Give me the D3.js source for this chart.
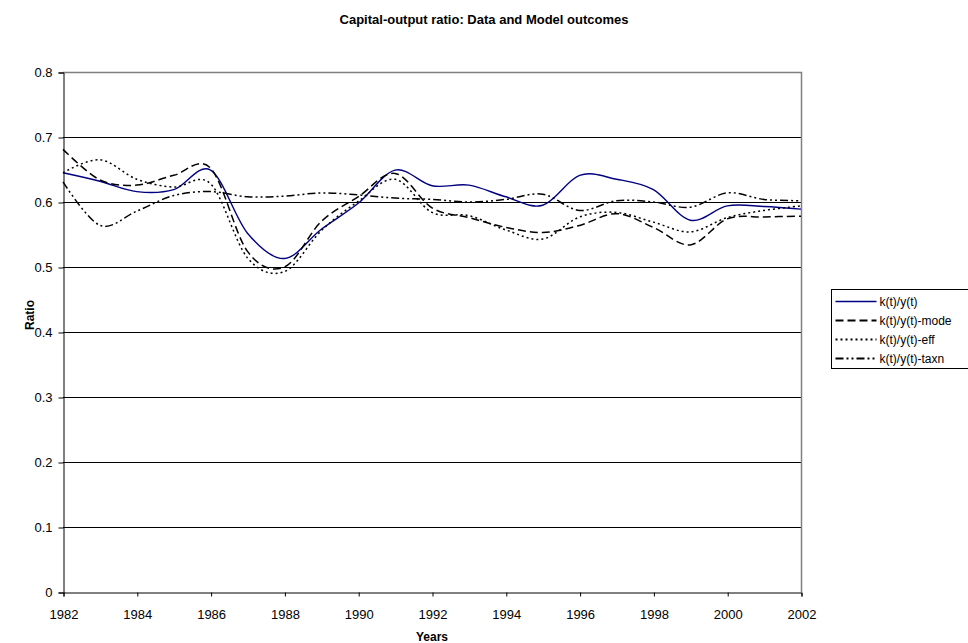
<!DOCTYPE html>
<html>
<head>
<meta charset="utf-8">
<script src="https://cdn.jsdelivr.net/npm/d3@7"></script>
<style>
  body { margin: 0; background: #fff; }
  text { font-family: "Liberation Sans", Arial, sans-serif; }
</style>
</head>
<body>
<div class="chart"></div>
<script>
// values
var years = d3.range(1982, 2003);
var dataKY  = [0.645, 0.632, 0.616, 0.619, 0.649, 0.552, 0.513, 0.558, 0.598, 0.649, 0.625, 0.626, 0.608, 0.595, 0.641, 0.635, 0.619, 0.572, 0.594, 0.593, 0.589];
var modelKY = [0.681, 0.634, 0.626, 0.641, 0.652, 0.524, 0.500, 0.570, 0.608, 0.644, 0.591, 0.576, 0.561, 0.553, 0.564, 0.582, 0.561, 0.534, 0.574, 0.577, 0.578];
var effKY   = [0.645, 0.665, 0.635, 0.623, 0.628, 0.514, 0.493, 0.556, 0.601, 0.635, 0.584, 0.579, 0.557, 0.543, 0.577, 0.584, 0.569, 0.554, 0.576, 0.587, 0.594];
var taxnKY  = [0.631, 0.564, 0.586, 0.610, 0.616, 0.608, 0.609, 0.614, 0.611, 0.606, 0.604, 0.600, 0.604, 0.612, 0.587, 0.602, 0.600, 0.592, 0.614, 0.604, 0.602];
var seriesNames = ["k(t)/y(t)", "k(t)/y(t)-mode", "k(t)/y(t)-eff", "k(t)/y(t)-taxn"];
var yTicks = [0, 0.1, 0.2, 0.3, 0.4, 0.5, 0.6, 0.7, 0.8];
var xTicks = d3.range(1982, 2003, 2);

var series = [
  {name: seriesNames[0], values: dataKY,  color: "#000080", dash: null,          width: 1.4},
  {name: seriesNames[1], values: modelKY, color: "#000",    dash: "8,4",         width: 1.5},
  {name: seriesNames[2], values: effKY,   color: "#000",    dash: "2,3",         width: 1.5},
  {name: seriesNames[3], values: taxnKY,  color: "#000",    dash: "8,3,2,3,2,3", width: 1.5}
];

var W = 968, H = 643;
var plotL = 63, plotR = 801, plotT = 72, plotB = 592;

var svg = d3.select(".chart").append("svg")
    .attr("width", W)
    .attr("height", H);

var x = d3.scaleLinear().domain([1982, 2002]).range([plotL, plotR]);
var y = d3.scaleLinear().domain([0, 0.8]).range([plotB, plotT]);

// title
svg.append("text")
    .attr("x", 484).attr("y", 24)
    .attr("text-anchor", "middle")
    .attr("font-size", 13).attr("font-weight", "bold")
    .text("Capital-output ratio: Data and Model outcomes");

// gridlines
svg.append("g").selectAll("line")
    .data(yTicks.filter(d => d > 0 && d < 0.8)).enter()
    .append("line")
    .attr("x1", plotL).attr("x2", plotR)
    .attr("y1", d => Math.round(y(d)) + 0.5)
    .attr("y2", d => Math.round(y(d)) + 0.5)
    .attr("stroke", "#000").attr("stroke-width", 1);

// plot border (top / right grey)
svg.append("path")
    .attr("d", `M${plotL},${plotT + 0.5}H${plotR + 0.5}V${plotB}`)
    .attr("fill", "none").attr("stroke", "#808080").attr("stroke-width", 1.5);

// axes
var yAxis = d3.axisLeft(y).tickValues(yTicks).tickSize(5).tickPadding(6)
    .tickFormat(d => d === 0 ? "0" : d3.format(".1f")(d));
svg.append("g")
    .attr("transform", `translate(${plotL + 0.5},0.5)`)
    .call(yAxis)
    .call(g => g.selectAll("text").attr("font-size", 13).attr("font-family", "Liberation Sans, Arial, sans-serif").attr("fill", "#000"));

var xAxis = d3.axisBottom(x).tickValues(xTicks).tickSize(4).tickPadding(13)
    .tickFormat(d3.format("d"));
svg.append("g")
    .attr("transform", `translate(0.5,${plotB + 0.5})`)
    .call(xAxis)
    .call(g => g.selectAll("text").attr("font-size", 13).attr("font-family", "Liberation Sans, Arial, sans-serif").attr("fill", "#000"));

svg.selectAll(".domain").attr("stroke", "#000");

// axis titles
svg.append("text")
    .attr("x", (plotL + plotR) / 2).attr("y", 641)
    .attr("text-anchor", "middle")
    .attr("font-size", 12).attr("font-weight", "bold")
    .text("Years");

svg.append("text")
    .attr("transform", "translate(34,315) rotate(-90)")
    .attr("text-anchor", "middle")
    .attr("font-size", 12).attr("font-weight", "bold")
    .text("Ratio");

// lines
var line = d3.line()
    .x((d, i) => x(years[i]))
    .y(d => y(d))
    .curve(d3.curveCatmullRom.alpha(0));

svg.append("g").selectAll("path")
    .data(series).enter()
    .append("path")
    .attr("d", d => line(d.values))
    .attr("fill", "none")
    .attr("stroke", d => d.color)
    .attr("stroke-width", d => d.width)
    .attr("stroke-dasharray", d => d.dash);

// legend
var lg = svg.append("g").attr("transform", "translate(831.5,289.5)");
lg.append("rect")
    .attr("width", 160).attr("height", 79)
    .attr("fill", "#fff").attr("stroke", "#000").attr("stroke-width", 1);

var items = lg.selectAll("g.item")
    .data(series).enter()
    .append("g")
    .attr("transform", (d, i) => `translate(0,${12 + i * 19})`);

items.append("line")
    .attr("x1", 4).attr("x2", 45)
    .attr("stroke", d => d.color)
    .attr("stroke-width", d => d.width + 0.3)
    .attr("stroke-dasharray", d => d.dash);

items.append("text")
    .attr("x", 48).attr("y", 4.5)
    .attr("font-size", 12)
    .text(d => d.name);
</script>
</body>
</html>
